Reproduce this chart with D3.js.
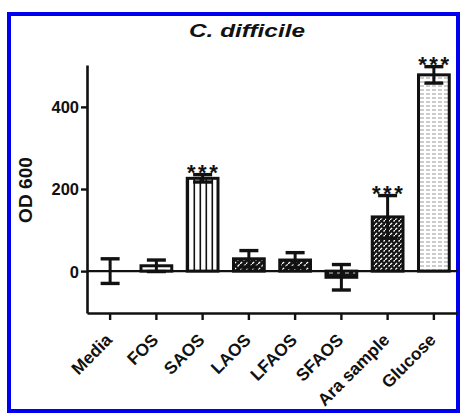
<!DOCTYPE html>
<html>
<head>
<meta charset="utf-8">
<script src="https://cdn.jsdelivr.net/npm/d3@7"></script>
<style>
  html, body { margin: 0; padding: 0; background: #fff; }
  svg { display: block; }
  text { font-family: "Liberation Sans", Arial, Helvetica, sans-serif; font-weight: bold; fill: #111; }
</style>
</head>
<body>
<svg id="chart" width="461" height="414"></svg>
<script>
// Growth of C. difficile on each carbon source (OD 600, mean ± error)
const categories = ["Media", "FOS", "SAOS", "LAOS", "LFAOS", "SFAOS", "Ara sample", "Glucose"];
const means      = [0, 13, 226, 30, 27, -15, 132, 478];
const errors     = [30, 14, 9, 20, 18, 31, 52, 20];
const significant = [false, false, true, false, false, false, true, true];
const fills      = ["none", "white", "vlines", "hatch", "hatch", "dashes", "hatchDense", "glucose"];
const yTicks     = [0, 200, 400];

const svg = d3.select("#chart");

// fill patterns for the bars
const defs = svg.append("defs");
const vl = defs.append("pattern").attr("id", "vlines").attr("patternUnits", "userSpaceOnUse")
  .attr("width", 6).attr("height", 6);
vl.append("rect").attr("width", 6).attr("height", 6).attr("fill", "#fff");
vl.append("rect").attr("x", 1.5).attr("width", 1.6).attr("height", 6).attr("fill", "#111");

function hatch(id, gap) {
  const p = defs.append("pattern").attr("id", id).attr("patternUnits", "userSpaceOnUse")
    .attr("width", gap).attr("height", gap);
  p.append("rect").attr("width", gap).attr("height", gap).attr("fill", "#161616");
  p.append("path").attr("d", `M0,${gap} L${gap},0 M${-gap/2},${gap/2} L${gap/2},${-gap/2} M${gap/2},${gap*1.5} L${gap*1.5},${gap/2}`)
    .attr("stroke", "#fff").attr("stroke-width", 1.3).attr("stroke-dasharray", "3,2");
}
hatch("hatch", 6);
hatch("hatchDense", 5);

const da = defs.append("pattern").attr("id", "dashes").attr("patternUnits", "userSpaceOnUse")
  .attr("width", 8).attr("height", 5);
da.append("rect").attr("width", 8).attr("height", 5).attr("fill", "#161616");
da.append("rect").attr("x", 1).attr("y", 2).attr("width", 4).attr("height", 1.4).attr("fill", "#fff");

const gl = defs.append("pattern").attr("id", "glucose").attr("patternUnits", "userSpaceOnUse")
  .attr("width", 6).attr("height", 4);
gl.append("rect").attr("width", 6).attr("height", 4).attr("fill", "#fff");
gl.append("rect").attr("x", 0).attr("y", 1.5).attr("width", 4).attr("height", 1).attr("fill", "#9a9a9a");

function fillFor(f) {
  if (f === "none" || f === "white") return "#fff";
  return `url(#${f})`;
}

// blue frame
svg.append("rect").attr("x", 9).attr("y", 14).attr("width", 449).attr("height", 397)
  .attr("fill", "none").attr("stroke", "#0000f0").attr("stroke-width", 4);

// title
svg.append("text").attr("x", 247).attr("y", 37).attr("text-anchor", "middle")
  .attr("font-size", 19).attr("font-style", "italic")
  .attr("textLength", 116).attr("lengthAdjust", "spacingAndGlyphs")
  .text("C. difficile");

const x = d3.scaleBand().domain(categories).range([87, 457]).paddingInner(0.27).paddingOuter(0.135);
const y = d3.scaleLinear().domain([-102, 502]).range([313, 65]);

// y axis
const yAxis = svg.append("g").attr("transform", "translate(87,0)")
  .call(d3.axisLeft(y).tickValues(yTicks).tickSize(6).tickSizeOuter(0).tickPadding(2));
yAxis.select(".domain").attr("stroke", "#111").attr("stroke-width", 2.6);
yAxis.selectAll(".tick line").attr("stroke", "#111").attr("stroke-width", 2.4);
yAxis.selectAll(".tick text").attr("font-size", 16.5).attr("font-family", "Liberation Sans, Arial, sans-serif")
  .attr("font-weight", "bold").attr("fill", "#111").attr("dy", "0.36em");

svg.append("text").attr("transform", "translate(31.5,190) rotate(-90)")
  .attr("text-anchor", "middle").attr("font-size", 18)
  .attr("textLength", 66).attr("lengthAdjust", "spacingAndGlyphs")
  .text("OD 600");

// x axis (offset at bottom of plot)
const xAxis = svg.append("g").attr("transform", "translate(0,313)")
  .call(d3.axisBottom(x).tickSize(7).tickSizeOuter(0).tickFormat(""));
xAxis.select(".domain").attr("stroke", "#111").attr("stroke-width", 2.6);
xAxis.selectAll(".tick line").attr("stroke", "#111").attr("stroke-width", 2.4);

svg.append("g").selectAll("text").data(categories).join("text")
  .attr("transform", d => `translate(${x(d) + x.bandwidth() / 2 + 3},${341}) rotate(-45)`)
  .attr("text-anchor", "end").attr("font-size", 17.3)
  .text(d => d);

// zero baseline
svg.append("line").attr("x1", 87).attr("x2", 457).attr("y1", y(0)).attr("y2", y(0))
  .attr("stroke", "#111").attr("stroke-width", 2.2);

const data = categories.map((c, i) => ({ c, m: means[i], e: errors[i], s: significant[i], f: fills[i] }));

// bars
svg.append("g").selectAll("rect").data(data.filter(d => d.f !== "none")).join("rect")
  .attr("x", d => x(d.c) + 1.5)
  .attr("width", x.bandwidth() - 3)
  .attr("y", d => y(Math.max(0, d.m)))
  .attr("height", d => Math.abs(y(d.m) - y(0)))
  .attr("fill", d => fillFor(d.f))
  .attr("stroke", "#111").attr("stroke-width", 3);

// error bars
const eb = svg.append("g").selectAll("g").data(data).join("g")
  .attr("transform", d => `translate(${x(d.c) + x.bandwidth() / 2},0)`);
eb.append("line").attr("y1", d => y(d.m + d.e)).attr("y2", d => y(d.m - d.e))
  .attr("stroke", "#111").attr("stroke-width", 3);
eb.append("line").attr("x1", -9.5).attr("x2", 9.5)
  .attr("y1", d => y(d.m + d.e)).attr("y2", d => y(d.m + d.e))
  .attr("stroke", "#111").attr("stroke-width", 3.4);
eb.append("line").attr("x1", -9.5).attr("x2", 9.5)
  .attr("y1", d => y(d.m - d.e)).attr("y2", d => y(d.m - d.e))
  .attr("stroke", "#111").attr("stroke-width", 3.4);

// significance markers
eb.filter(d => d.s).append("text")
  .attr("x", 1)
  .attr("y", d => y(d.m + d.e) + 5)
  .attr("text-anchor", "middle").attr("font-size", 22).attr("font-weight", "normal")
  .attr("letter-spacing", 2.5)
  .text("***");
</script>
</body>
</html>
